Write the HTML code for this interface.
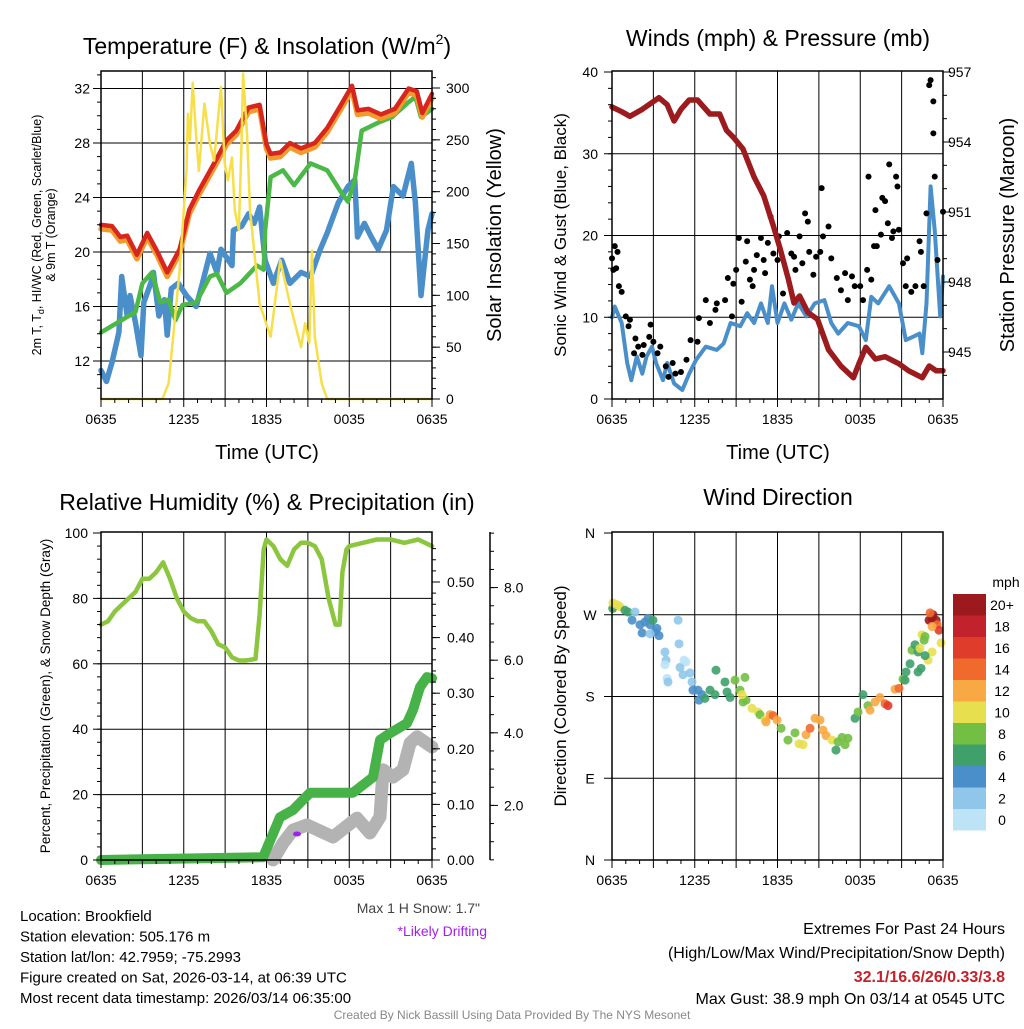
<!DOCTYPE html>
<html><head><meta charset="utf-8"><style>
body{margin:0;background:#fff;}
svg{font-family:"Liberation Sans",sans-serif;}
</style></head><body>
<svg id="s" xmlns="http://www.w3.org/2000/svg" width="1024" height="1024" viewBox="0 0 1024 1024">
<rect width="1024" height="1024" fill="#fff"/>
<text x="267" y="54" font-size="23" text-anchor="middle">Temperature (F) &amp; Insolation (W/m<tspan font-size="14" dy="-10">2</tspan><tspan dy="10">)</tspan></text>
<text x="778" y="46" font-size="23" text-anchor="middle">Winds (mph) &amp; Pressure (mb)</text>
<text x="267" y="510" font-size="23" text-anchor="middle">Relative Humidity (%) &amp; Precipitation (in)</text>
<text x="778" y="505" font-size="23" text-anchor="middle">Wind Direction</text>
<text x="267" y="459" font-size="20" text-anchor="middle">Time (UTC)</text>
<text x="778" y="459" font-size="20" text-anchor="middle">Time (UTC)</text>
<text transform="translate(41,235) rotate(-90)" font-size="12.5" text-anchor="middle">2m T, T<tspan font-size="9" dy="3">d</tspan><tspan dy="-3">, HI/WC (Red, Green, Scarlet/Blue)</tspan></text>
<text transform="translate(55,235) rotate(-90)" font-size="12.5" text-anchor="middle">&amp; 9m T (Orange)</text>
<text transform="translate(501,235) rotate(-90)" font-size="20" text-anchor="middle">Solar Insolation (Yellow)</text>
<text transform="translate(566,235) rotate(-90)" font-size="17" text-anchor="middle">Sonic Wind &amp; Gust (Blue, Black)</text>
<text transform="translate(1014,235) rotate(-90)" font-size="20" text-anchor="middle">Station Pressure (Maroon)</text>
<text transform="translate(50,696) rotate(-90)" font-size="13.5" text-anchor="middle">Percent, Precipitation (Green), &amp; Snow Depth (Gray)</text>
<text transform="translate(566,696) rotate(-90)" font-size="17" text-anchor="middle">Direction (Colored By Speed)</text>
<g font-size="15">
<text x="20" y="921">Location: Brookfield</text>
<text x="20" y="941.5">Station elevation: 505.176 m</text>
<text x="20" y="962">Station lat/lon: 42.7959; -75.2993</text>
<text x="20" y="982.5">Figure created on Sat, 2026-03-14, at 06:39 UTC</text>
<text x="20" y="1003">Most recent data timestamp: 2026/03/14 06:35:00</text>
</g>
<text x="480" y="913" font-size="14" fill="#444" text-anchor="end">Max 1 H Snow: 1.7"</text>
<text x="487" y="936" font-size="14" fill="#a020f0" text-anchor="end">*Likely Drifting</text>
<g font-size="16" text-anchor="end">
<text x="1005" y="934">Extremes For Past 24 Hours</text>
<text x="1005" y="958">(High/Low/Max Wind/Precipitation/Snow Depth)</text>
<text x="1005" y="982" fill="#c8202a" font-weight="bold">32.1/16.6/26/0.33/3.8</text>
<text x="1005" y="1004">Max Gust: 38.9 mph On 03/14 at 0545 UTC</text>
</g>
<text x="512" y="1019" font-size="12" fill="#888" text-anchor="middle">Created By Nick Bassill Using Data Provided By The NYS Mesonet</text>
</svg>
<script>
// ---- data ----
const tempT=[0,0.8,1.4,1.9,2.6,3.35,4.1,4.8,5.7,6.4,7.1,8.2,9.1,9.8,10.7,11.5,12.0,12.3,13.0,13.7,14.5,15.5,16.4,17.4,18.2,18.6,19.4,20.3,21.3,22.3,22.9,23.3,24];
const tempRed=[22,21.9,21.1,21.2,19.8,21.4,20.0,18.5,20.2,23.1,24.5,26.5,28.2,28.9,30.6,30.8,27.9,27.2,27.3,28.0,27.6,28.0,29.1,30.8,32.2,30.4,30.5,30.1,30.5,32.0,31.8,30.2,31.6];
const dewT=[0,1.0,2.5,3.0,3.7,4.3,4.9,5.4,5.9,6.9,7.9,8.4,9.1,10.1,11.3,11.8,11.9,12.3,13.2,14.0,15.2,16.4,17.4,17.9,18.4,18.9,20.1,21.1,22.3,22.8,23.2,24];
const dewGreen=[14.1,14.7,15.6,17.7,18.5,16.3,16.5,15.0,16.1,16.3,18.2,18.4,17.0,17.7,19.0,18.7,21.6,25.5,26.0,24.9,26.5,26.0,24.4,23.7,25.3,28.9,29.5,29.9,31.0,31.4,29.9,30.5];
const wcT=[0,0.4,0.8,1.3,1.5,1.9,2.1,2.5,2.9,3.1,3.6,3.8,4.2,4.6,4.8,5.1,5.6,6.2,6.9,7.3,7.9,8.4,8.7,9.5,9.6,10.2,10.7,11.1,11.5,11.9,12.5,13.1,13.7,14.5,15.2,15.9,16.4,17.2,17.9,18.4,18.6,19.1,19.6,20.1,20.7,21.2,21.9,22.5,22.8,23.2,23.7,24];
const wcBlue=[11.3,10.5,11.9,14.1,18.2,15.3,16.8,14.8,12.4,16.3,17.7,18.5,15.3,16.5,13.9,17.3,17.7,16.8,16.0,17.5,19.9,18.5,20.2,19.0,21.6,21.9,22.8,22.1,23.3,19.4,17.7,19.4,17.7,18.5,18.2,20.2,21.4,23.6,24.8,25.3,21.1,22.1,21.1,20.2,21.6,24.8,24.1,26.5,23.6,16.8,21.6,22.8];
const solT=[0,4.45,4.9,5.7,6.2,6.3,6.45,6.65,6.9,7.1,7.5,7.9,8.2,8.7,8.97,9.2,9.5,9.7,10.0,10.2,10.3,10.6,10.8,11.5,12.3,13.0,13.7,14.5,14.8,15.1,15.3,15.5,16.0,16.4,24];
const solar=[0,0,15,124,220,275,250,305,253,220,285,246,230,301,227,211,233,182,163,253,314,253,182,92,60,134,92,50,73,54,143,60,15,0,0];
const presT=[0,0.7,1.3,2.2,3.4,4.0,4.5,5.0,5.6,6.2,7.1,7.8,8.3,8.8,9.5,10.3,11.0,11.7,12.2,12.8,13.2,13.6,14.2,14.9,15.7,16.6,17.5,17.9,18.4,19.1,19.8,20.8,21.5,22.5,23.0,23.5,24];
const pressure=[955.5,955.3,955.1,955.4,955.9,955.6,954.9,955.4,955.8,955.8,955.2,955.2,954.5,954.2,953.7,952.5,951.7,950.4,949.4,948.1,947.1,947.4,946.7,946.4,945.1,944.4,943.9,944.5,945.2,944.7,944.8,944.5,944.2,943.9,944.4,944.2,944.2];
const windT=[0,0.2,0.7,1.1,1.4,1.8,2.2,2.5,2.9,3.2,3.7,4.0,4.5,5.1,5.6,6.1,6.8,7.6,8.1,8.6,9.3,9.8,10.3,10.8,11.3,11.6,12.0,12.5,13.0,13.5,14.1,14.7,15.4,15.9,16.4,17.1,17.9,18.4,18.8,19.3,20.1,20.8,21.3,21.8,22.3,22.5,22.8,23.1,23.4,23.8,24];
const wind=[10,11.3,9.3,4.4,2.3,5.2,3.1,5.2,6.4,4.4,2.3,4.4,1.9,1.1,3.1,4.8,6.4,6.0,6.8,9.3,8.9,10.5,9.3,11.7,9.3,13.8,9.3,11.7,9.7,11.7,10.1,11.7,12.1,9.3,8.0,9.3,8.9,7.2,12.5,11.7,13.8,11.7,7.2,7.6,8.0,5.6,11.7,26,20.7,10.1,15];
const gustT=[0,0.2,0.4,0.1,0.3,0.5,0.7,1,1.2,1.3,1.7,1.9,1.6,2.2,2.3,2.8,2.7,3.0,3.3,3.5,3.9,4.1,4.4,4.6,5.0,5.4,5.7,6.2,6.3,6.8,7.1,7.5,7.6,8.2,8.4,8.7,8.8,9.0,9.2,9.4,9.7,9.8,10.0,10.3,10.2,10.5,10.8,11,11.1,11.3,11.5,11.7,12.0,12.1,12.4,12.7,13.0,13.2,13.3,13.6,13.8,14.0,14.2,14.3,14.6,14.8,15.1,15.2,15.3,15.7,15.9,16.3,16.6,16.9,17.1,17.4,17.6,18.0,18.2,18.5,18.6,18.8,19.0,19.1,19.2,19.5,19.6,19.8,20.0,20.1,20.3,20.4,20.6,20.7,20.8,21.1,21.3,21.4,21.7,22.0,22.3,22.4,22.6,22.8,23.0,23.1,23.3,23.3,23.4,23.6,24];
const gust=[17.2,18.7,18,15.8,16,13.8,13.1,10.1,8.9,9.7,7.4,6.4,5.6,5.4,6.6,9.1,7.6,7.0,5.6,6.4,4.0,2.7,4.4,3.1,3.3,4.8,7.2,7.0,9.9,12.1,9.3,10.9,11.7,12.1,14.8,10.1,14.1,15.8,19.7,11.9,16.8,19.3,14.6,15.8,13.8,17.6,19.7,17,15.4,19.1,22.3,17.8,17,19.9,12.9,20.3,17.8,17.4,15.8,19.9,16.6,22.7,21.7,18.0,15.2,17.4,18.0,25.8,19.9,21.1,17.2,14.8,13.3,15.4,12.1,15,13.8,13.8,12.1,15.8,27.2,14.6,18.7,23.1,18.7,20.1,24.6,24.2,21.5,28.7,19.7,20.5,27.2,26,20.7,16.6,13.8,17.2,13.1,13.8,19.3,18,13.8,22.7,38.4,39,36.4,32.5,27.2,17,22.9];
const rhT=[0,0.5,1,1.5,2,2.5,3,3.5,4,4.5,5,5.5,6,6.5,7,7.5,8,8.5,9,9.5,10,10.5,11.2,11.5,11.8,12,12.5,13,13.5,14,14.5,15,15.5,16,16.5,17,17.3,17.5,17.8,18,19,20,21,22,23,23.5,24];
const rh=[72,73,76,78,80,82,86,86,88,91,86,80,76,74,73,73,70,66,65,62,61,61,61.5,75,95,98,96,92,90,95,97,97,96,92,80,72,72,88,95,96,97,98,98,97,98,97,96];
const precipT=[0,11.75,12.98,13.92,15.16,18.27,19.72,20.23,20.96,22.19,22.62,23.13,23.64,24];
const precip=[0,0.005,0.077,0.09,0.121,0.121,0.149,0.216,0.228,0.246,0.27,0.311,0.329,0.327];
const snowT=[12.47,13.2,13.92,14.94,16.82,18.56,19.5,20.23,20.45,21.17,21.9,22.41,22.92,24];
const snow=[0.5,0.96,1.32,1.46,1.13,1.65,1.24,1.68,2.98,2.78,2.98,3.72,3.89,3.61];
const dirT=[0.05,0.07,0.36,0.58,0.94,1.16,1.45,1.67,2.03,2.39,2.61,2.76,2.97,3.12,3.26,3.41,2.18,2.76,4.79,3.84,3.92,4.86,3.99,5.37,4.06,4.93,5.15,5.66,5.80,5.87,6.24,6.53,6.31,6.74,7.11,7.47,7.54,8.19,8.34,8.56,8.92,9.28,9.64,9.5,9.72,9.43,10.15,10.59,10.73,11.1,11.17,11.46,11.68,11.97,12.26,12.76,13.27,13.56,13.85,14.07,14.36,14.72,15.08,15.3,15.52,15.95,16.24,16.39,16.68,16.9,17.11,17.62,17.84,18.2,18.56,18.71,19.07,19.43,19.8,20.01,20.52,20.81,21.1,21.32,21.61,21.75,21.97,22.19,22.33,22.48,22.63,22.7,22.99,23.21,23.28,23.5,23.57,23.71,23.21,23.86,23.06,22.92,23.21,22.7,22.41,22.19,21.25,3.84,5.22];
const dirDeg=[277,283,281,279,275,273,264,273,259,262,266,259,264,251,255,247,250,249,264,229,220,238,200,218,196,212,204,206,196,187,187,182,176,178,187,182,209,196,185,179,198,187,201,174,176,182,167,163,160,154,152,160,159,154,145,132,140,128,127,138,145,156,154,143,137,132,121,130,135,127,134,156,163,182,170,165,174,179,172,170,188,189,199,207,216,231,237,229,233,248,242,246,264,266,270,264,259,253,257,239,272,220,229,225,211,207,198,215,220];
const dirSpeed=[6,10,10,10,6,6,4,3,4,4,4,4,6,4,4,4,4,3,2,2,2,2,1,1,2,2,2,2,2,4,4,4,4,6,6,6,6,6,6,6,8,8,8,8,8,10,10,10,9,10,12,12,15,12,8,9,8,10,10,12,14,12,12,12,12,10,6,8,8,8,8,6,8,6,9,12,12,12,14,16,12,14,8,6,6,8,6,6,10,10,8,9,20,20,20,20,14,16,12,10,14,11,10,6,6,6,6,0,0];
const barLabels=["20+","18","16","14","12","10","8","6","4","2","0"];
const barColors=["#9c1a1d","#c1222b","#e03c2b","#f06a2d","#f9a943","#e8df4f","#72bf44","#3fa06a","#4a8fc9","#8fc6ea","#bde3f7"];
const xTickLabels=["0635","1235","1835","0035","0635"];
const tempTicks=[12,16,20,24,28,32];
const solarTicks=[0,50,100,150,200,250,300];
const windTicks=[0,10,20,30,40];
const presTicks=[945,948,951,954,957];
const rhTicks=[0,20,40,60,80,100];
const precipTicks=[0,0.1,0.2,0.3,0.4,0.5];
const snowTicks=[2,4,6,8];
const dirLabels=["N","E","S","W","N"];
const dirTicks=[0,90,180,270,360];

// ---- scales ----
const X1=t=>101+t*331/24, X2=t=>612+t*331/24;
const yTemp=v=>361-(v-12)*13.625;
const ySol=v=>399-v*311/300;
const yWind=v=>399-v*327/40;
const yPres=v=>352-(v-945)*280/12;
const yRH=v=>860-v*3.27;
const yPrec=v=>860-v*556;
const ySnow=v=>878-v*36.3;
const yDir=v=>860-v*327/360;
const NS="http://www.w3.org/2000/svg";
const svg=document.getElementById('s');
function el(tag,attrs,name,parent){
  const e=document.createElementNS(NS,tag);
  for(const k in attrs)e.setAttribute(k,attrs[k]);
  
  
  (parent||svg).appendChild(e);return e;
}
function txt(x,y,s,size,anchor,name){const e=el('text',{x:x,y:y,'font-size':size,'text-anchor':anchor},name);e.textContent=s;return e;}
function poly(ts,vs,xf,yf,color,w,name,op){
  const pts=ts.map((t,i)=>xf(t).toFixed(1)+','+yf(vs[i]).toFixed(1)).join(' ');
  return el('polyline',{points:pts,fill:'none',stroke:color,'stroke-width':w,'stroke-linejoin':'round','stroke-linecap':'round',opacity:op||1},name);
}
function frame(x0,y0,x1,y1,vgrid,hys,name){
  const g=el('g',{},name+'-grid');
  vgrid.forEach(x=>el('line',{x1:x,y1:y0,x2:x,y2:y1,stroke:'#000','stroke-width':1},'v-gridline',g));
  hys.forEach(y=>el('line',{x1:x0,y1:y,x2:x1,y2:y,stroke:'#000','stroke-width':1},'h-gridline',g));
}
function box(x0,y0,x1,y1,name){el('rect',{x:x0,y:y0,width:x1-x0,height:y1-y0,fill:'none',stroke:'#000','stroke-width':1.5},name);}
function xticks(xf,y){
  for(let i=0;i<5;i++){txt(xf(i*6),y+25,xTickLabels[i],14,'middle','x-tick-label');}
  for(let h=0;h<=24;h++){el('line',{x1:xf(h),y1:y,x2:xf(h),y2:y+(h%3?4:8),stroke:'#000'},'x-tick');}
}
const vg1=[],vg2=[];for(let h=3;h<24;h+=3){vg1.push(X1(h));vg2.push(X2(h));}

// ---- panel 1 ----
frame(101,71,432,399,vg1,tempTicks.map(yTemp),'temp');
poly(wcT,wcBlue,X1,yTemp,'#4a8fc9',5.5,'windchill-line');
poly(dewT,dewGreen,X1,yTemp,'#4cb848',4.5,'dewpoint-line');
poly(tempT,tempRed.map(v=>v-0.3),X1,yTemp,'#f39a2d',5.5,'temp-9m-line');
poly(tempT,tempRed,X1,yTemp,'#d7261e',4.5,'temp-2m-line');
poly(solT,solar,X1,ySol,'#f7df4a',2.5,'solar-line');
box(101,71,432,399,'temp-plot-frame');
tempTicks.forEach(v=>{txt(90,yTemp(v)+5,String(v),14,'end','temp-tick-label');el('line',{x1:93,y1:yTemp(v),x2:101,y2:yTemp(v),stroke:'#000'},'temp-tick');});
for(let v=10;v<=33;v++){el('line',{x1:97,y1:yTemp(v),x2:101,y2:yTemp(v),stroke:'#000'},'temp-minor-tick');}
solarTicks.forEach(v=>{txt(446,ySol(v)+5,String(v),14,'start','solar-tick-label');el('line',{x1:432,y1:ySol(v),x2:440,y2:ySol(v),stroke:'#000'},'solar-tick');});
for(let v=0;v<=310;v+=10){el('line',{x1:432,y1:ySol(v),x2:436,y2:ySol(v),stroke:'#000'},'solar-minor-tick');}
xticks(X1,399);

// ---- panel 2 ----
frame(612,71,943,399,vg2,[10,20,30].map(yWind),'wind');
poly(windT,wind,X2,yWind,'#4a8fc9',4,'wind-line');
gustT.forEach((t,i)=>{el('circle',{cx:X2(t),cy:yWind(gust[i]),r:3,fill:'#000'},'gust-point');});
poly(presT,pressure,X2,yPres,'#9b1b1e',5.5,'pressure-line');
box(612,71,943,399,'wind-plot-frame');
windTicks.forEach(v=>{txt(598,yWind(v)+5,String(v),14,'end','wind-tick-label');el('line',{x1:604,y1:yWind(v),x2:612,y2:yWind(v),stroke:'#000'},'wind-tick');});
for(let v=0;v<=40;v+=2){el('line',{x1:608,y1:yWind(v),x2:612,y2:yWind(v),stroke:'#000'},'wind-minor-tick');}
presTicks.forEach(v=>{txt(948,yPres(v)+5,String(v),14,'start','pressure-tick-label');el('line',{x1:943,y1:yPres(v),x2:951,y2:yPres(v),stroke:'#000'},'pressure-tick');});
for(let v=944;v<=957;v++){el('line',{x1:943,y1:yPres(v),x2:947,y2:yPres(v),stroke:'#000'},'pressure-minor-tick');}
xticks(X2,399);

// ---- panel 3 ----
frame(101,532,432,860,vg1,[20,40,60,80].map(yRH),'rh');
poly(rhT,rh,X1,yRH,'#8cc63f',4.5,'rh-line');
poly(snowT,snow,X1,ySnow,'#b3b3b3',13,'snow-depth-line');
poly(precipT,precip,X1,yPrec,'#47b247',10,'precip-line');
el('ellipse',{cx:297,cy:834,rx:4,ry:2.5,fill:'#a020f0'},'drifting-marker');
box(101,532,432,860,'rh-plot-frame');
rhTicks.forEach(v=>{txt(88,yRH(v)+5,String(v),14,'end','rh-tick-label');el('line',{x1:93,y1:yRH(v),x2:101,y2:yRH(v),stroke:'#000'},'rh-tick');});
for(let v=0;v<=100;v+=4){el('line',{x1:97,y1:yRH(v),x2:101,y2:yRH(v),stroke:'#000'},'rh-minor-tick');}
precipTicks.forEach(v=>{txt(447,yPrec(v)+5,v.toFixed(2),14,'start','precip-tick-label');el('line',{x1:432,y1:yPrec(v),x2:440,y2:yPrec(v),stroke:'#000'},'precip-tick');});
for(let v=0;v<=0.58;v+=0.02){el('line',{x1:432,y1:yPrec(v),x2:436,y2:yPrec(v),stroke:'#000'},'precip-minor-tick');}
el('line',{x1:490,y1:532,x2:490,y2:860,stroke:'#000','stroke-width':1.5},'snow-axis-line');
snowTicks.forEach(v=>{txt(504,ySnow(v)+5,v.toFixed(1),14,'start','snow-tick-label');el('line',{x1:490,y1:ySnow(v),x2:498,y2:ySnow(v),stroke:'#000'},'snow-tick');});
for(let v=0.5;v<=9.5;v+=0.5){if(ySnow(v)>=532&&ySnow(v)<=860)el('line',{x1:490,y1:ySnow(v),x2:494,y2:ySnow(v),stroke:'#000'},'snow-minor-tick');}
xticks(X1,860);

// ---- panel 4 ----
frame(612,532,943,860,vg2,[90,180,270].map(yDir),'dir');
function spdColor(s){const idx=Math.max(0,Math.min(10,Math.floor((s||0)/2)));return barColors[10-idx];}
dirT.forEach((t,i)=>{el('circle',{cx:X2(t),cy:yDir(dirDeg[i]),r:4.5,fill:spdColor(dirSpeed[i]),opacity:0.9},'direction-point');});
box(612,532,943,860,'dir-plot-frame');
dirTicks.forEach((v,i)=>{txt(590,yDir(v)+5,dirLabels[i],14,'middle','dir-tick-label');el('line',{x1:604,y1:yDir(v),x2:612,y2:yDir(v),stroke:'#000'},'dir-tick');});
xticks(X2,860);
txt(1006,587,'mph',14,'middle','colorbar-title');
barLabels.forEach((l,i)=>{const y=594+i*21.5;el('rect',{x:953,y:y,width:33,height:21.5,fill:barColors[i]},'colorbar-box');txt(1002,y+16,l,14,'middle','colorbar-label');});
</script>
</body></html>
